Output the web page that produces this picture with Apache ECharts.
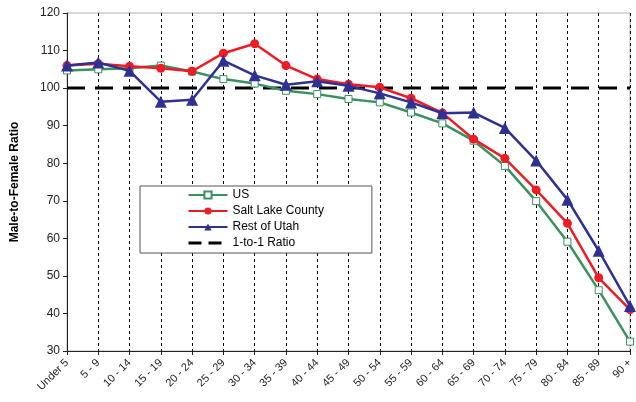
<!DOCTYPE html>
<html>
<head>
<meta charset="utf-8">
<style>
  html, body { margin: 0; padding: 0; background: #fff; }
  #chart { width: 636px; height: 402px; }
</style>
<script src="https://cdn.jsdelivr.net/npm/echarts@6/dist/echarts.min.js"></script>
</head>
<body>
<div id="chart"></div>
<script>
// Age groups along the x axis
const ageGroups = ['Under 5', '5 - 9', '10 - 14', '15 - 19', '20 - 24', '25 - 29', '30 - 34',
  '35 - 39', '40 - 44', '45 - 49', '50 - 54', '55 - 59', '60 - 64', '65 - 69', '70 - 74',
  '75 - 79', '80 - 84', '85 - 89', '90 +'];

// Males per 100 females, by age group
const usRatio = [104.7, 105.0, 105.3, 106.0, 104.4, 102.4, 101.2, 99.3, 98.4, 97.1, 96.2,
  93.5, 90.6, 86.0, 79.3, 69.9, 59.1, 46.2, 32.5];
const saltLakeRatio = [106.0, 106.5, 105.8, 105.3, 104.5, 109.3, 111.8, 106.0, 102.4, 101.0,
  100.2, 97.3, 93.4, 86.4, 81.3, 72.9, 64.0, 49.5, 41.0];
const restOfUtahRatio = [106.0, 106.8, 104.6, 96.4, 96.9, 107.3, 103.4, 100.9, 101.8, 100.6,
  98.6, 96.2, 93.3, 93.5, 89.4, 80.7, 70.3, 56.7, 42.0];
// Parity reference: equal numbers of males and females
const parityRatio = ageGroups.map(() => 100);

// Value axis ticks
const yMin = 30, yMax = 120, yStep = 10;

const chart = echarts.init(document.getElementById('chart'), null, { renderer: 'canvas' });

const FONT = '"Liberation Sans", Arial, sans-serif';
const GREEN = '#3a9160', RED = '#ee1c25', BLUE = '#2e3192';

chart.setOption({
  animation: false,
  backgroundColor: '#fff',
  grid: {
    left: 67, right: 0, top: 13, bottom: 51,
    show: true, borderColor: '#b4b4b4', borderWidth: 1
  },
  legend: {
    orient: 'vertical',
    left: 140, top: 186,
    padding: [3, 48, 4, 47],
    itemWidth: 39, itemHeight: 9, itemGap: 4,
    backgroundColor: '#fff',
    borderColor: '#555', borderWidth: 1,
    textStyle: { fontFamily: FONT, fontSize: 12, color: '#000' },
    data: [
      { name: 'US' },
      { name: 'Salt Lake County' },
      { name: 'Rest of Utah' },
      { name: '1-to-1 Ratio', itemStyle: { opacity: 0 },
        lineStyle: { color: '#000', width: 3, type: [13, 7] } }
    ]
  },
  xAxis: {
    type: 'category',
    data: ageGroups,
    boundaryGap: false,
    axisLine: { lineStyle: { color: '#222', width: 1 } },
    axisTick: { show: true, length: 4, lineStyle: { color: '#222' } },
    axisLabel: {
      rotate: 45, margin: 10, interval: 0,
      fontFamily: FONT, fontSize: 11, color: '#222'
    },
    splitLine: { show: true, lineStyle: { color: '#000', width: 1, type: [3, 3] } }
  },
  yAxis: {
    type: 'value',
    min: yMin, max: yMax, interval: yStep,
    name: 'Male-to-Female Ratio',
    nameLocation: 'middle',
    nameGap: 46,
    nameTextStyle: { fontFamily: FONT, fontSize: 12, fontWeight: 'bold', color: '#000' },
    axisLine: { show: true, lineStyle: { color: '#222', width: 1 } },
    axisTick: { show: true, length: 4, lineStyle: { color: '#222' } },
    axisLabel: { margin: 7, fontFamily: FONT, fontSize: 12, color: '#222' },
    splitLine: { show: false }
  },
  series: [
    {
      name: '1-to-1 Ratio',
      type: 'line',
      data: parityRatio,
      symbol: 'none',
      itemStyle: { color: '#000' },
      lineStyle: { color: '#000', width: 3, type: [18, 10] },
      z: 1
    },
    {
      name: 'US',
      type: 'line',
      data: usRatio,
      symbol: 'rect', symbolSize: 7,
      itemStyle: { color: '#fff', borderColor: GREEN, borderWidth: 1 },
      lineStyle: { color: GREEN, width: 2.5 },
      z: 2
    },
    {
      name: 'Salt Lake County',
      type: 'line',
      data: saltLakeRatio,
      symbol: 'circle', symbolSize: 9,
      itemStyle: { color: RED },
      lineStyle: { color: RED, width: 2.5 },
      z: 3
    },
    {
      name: 'Rest of Utah',
      type: 'line',
      data: restOfUtahRatio,
      symbol: 'triangle', symbolSize: 12,
      itemStyle: { color: BLUE },
      lineStyle: { color: BLUE, width: 2.5 },
      z: 4
    }
  ]
});
</script>
</body>
</html>
